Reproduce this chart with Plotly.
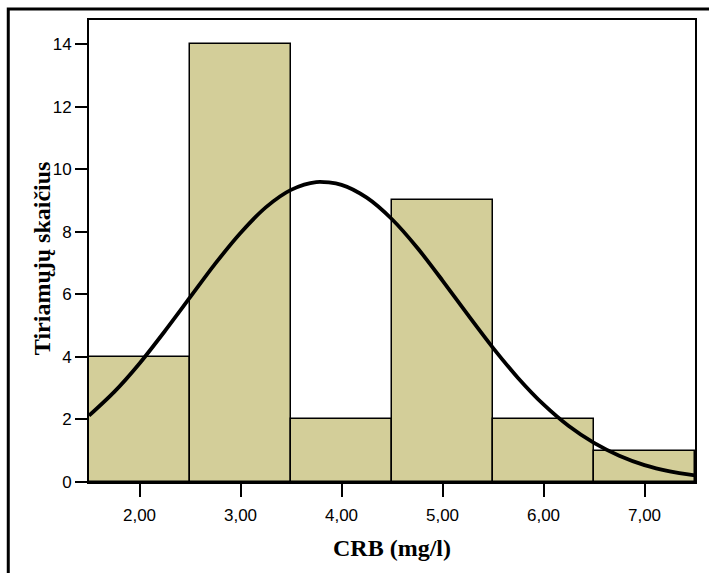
import plotly.graph_objects as go

# Histogram data (bin centres and counts)
bin_centers = [2, 3, 4, 5, 6, 7]
counts = [4, 14, 2, 9, 2, 1]

# Fitted normal curve
curve_x = [1.5, 1.75, 2.0, 2.25, 2.5, 2.75, 3.0, 3.25, 3.5, 3.75, 4.0, 4.25, 4.5,
           4.75, 5.0, 5.25, 5.5, 5.75, 6.0, 6.25, 6.5, 6.75, 7.0, 7.25, 7.5]
curve_y = [2.12, 2.88, 3.79, 4.82, 5.90, 6.98, 7.96, 8.78, 9.34, 9.59, 9.50, 9.09, 8.40,
           7.49, 6.44, 5.35, 4.29, 3.32, 2.48, 1.79, 1.25, 0.84, 0.54, 0.34, 0.21]

x_ticks = [2, 3, 4, 5, 6, 7]
x_tick_labels = ["2,00", "3,00", "4,00", "5,00", "6,00", "7,00"]
y_ticks = [0, 2, 4, 6, 8, 10, 12, 14]

W, H = 709, 573
L, R, T, B = 89, 12, 20, 91
pw, ph = W - L - R, H - T - B

def px_x(p):
    return (p - L) / pw

def px_y(p):
    return (H - B - p) / ph

fig = go.Figure()
fig.add_trace(go.Bar(
    x=bin_centers, y=counts, width=1,
    marker=dict(color="#D3CE99", line=dict(color="black", width=1.5)),
    showlegend=False, hoverinfo="x+y",
))
fig.add_trace(go.Scatter(
    x=curve_x, y=curve_y, mode="lines",
    line=dict(color="black", width=3.8, shape="spline", smoothing=0.8),
    showlegend=False,
))

tick_font = dict(family="Liberation Sans, Arial, sans-serif", size=17, color="black")
title_font = dict(family="Liberation Serif, Times New Roman, serif", size=24, color="black")
fig.update_layout(
    width=W, height=H,
    margin=dict(l=L, r=R, t=T, b=B),
    paper_bgcolor="white", plot_bgcolor="white",
    bargap=0,
    xaxis=dict(
        range=[1.5, 7.5], tickvals=x_ticks, ticktext=x_tick_labels,
        ticks="outside", ticklen=13, tickwidth=2, tickcolor="black",
        ticklabelstandoff=4,
        showline=True, linewidth=2, linecolor="black", mirror=True,
        showgrid=False, zeroline=False, tickfont=tick_font,
    ),
    yaxis=dict(
        range=[0, 14.77], tickvals=y_ticks,
        ticks="outside", ticklen=12, tickwidth=2, tickcolor="black",
        showline=True, linewidth=2, linecolor="black", mirror=True,
        showgrid=False, zeroline=False, tickfont=tick_font,
    ),
    annotations=[
        dict(text="<b>CRB (mg/l)</b>", xref="paper", yref="paper",
             x=0.5, y=px_y(548), xanchor="center", yanchor="middle",
             showarrow=False, font=title_font),
        dict(text="<b>Tiriamųjų skaičius</b>", xref="paper", yref="paper",
             x=px_x(42), y=px_y(258), xanchor="center", yanchor="middle",
             textangle=-90, showarrow=False, font=title_font),
    ],
    shapes=[
        dict(type="rect", xref="paper", yref="paper",
             x0=px_x(8), x1=px_x(714), y0=px_y(578), y1=px_y(9),
             line=dict(color="black", width=3), layer="below"),
    ],
)

fig.write_html("out.html")
